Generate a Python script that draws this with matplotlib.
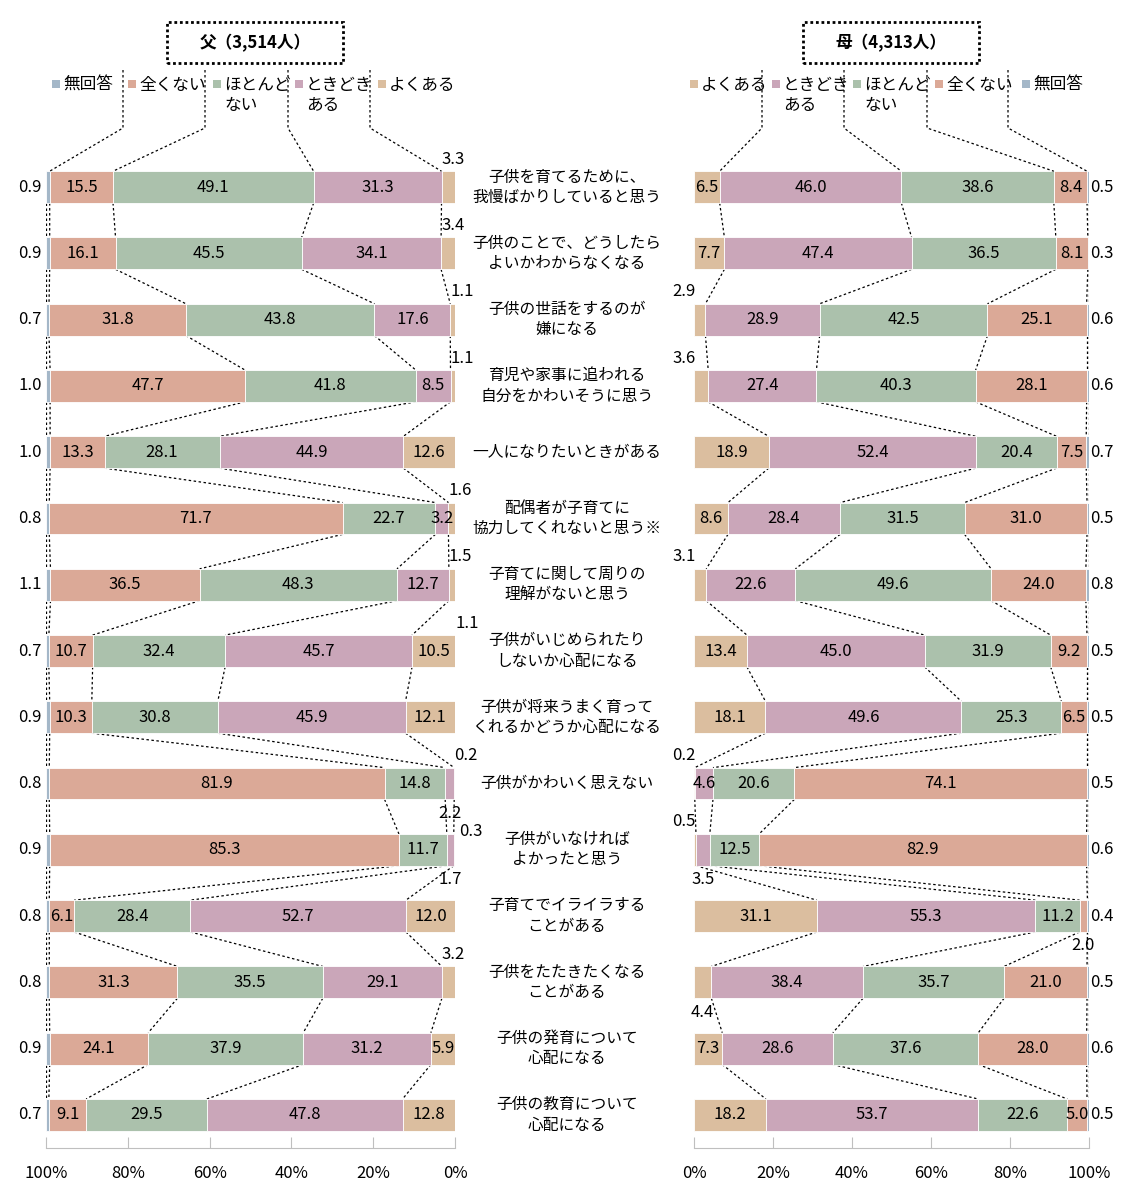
import numpy as np
import matplotlib.pyplot as plt
from matplotlib.patches import Rectangle
from matplotlib.lines import Line2D
from matplotlib.transforms import blended_transform_factory

plt.rcParams['font.family'] = ['Noto Sans CJK JP', 'DejaVu Sans']

# --- data -------------------------------------------------------------
categories = [
    "子供を育てるために、\n我慢ばかりしていると思う",
    "子供のことで、どうしたら\nよいかわからなくなる",
    "子供の世話をするのが\n嫌になる",
    "育児や家事に追われる\n自分をかわいそうに思う",
    "一人になりたいときがある",
    "配偶者が子育てに\n協力してくれないと思う※",
    "子育てに関して周りの\n理解がないと思う",
    "子供がいじめられたり\nしないか心配になる",
    "子供が将来うまく育って\nくれるかどうか心配になる",
    "子供がかわいく思えない",
    "子供がいなければ\nよかったと思う",
    "子育てでイライラする\nことがある",
    "子供をたたきたくなる\nことがある",
    "子供の発育について\n心配になる",
    "子供の教育について\n心配になる",
]

series_names = ["よくある", "ときどき\nある", "ほとんど\nない", "全くない", "無回答"]

# father (3,514)
father_often     = [3.3, 3.4, 1.1, 1.1, 12.6, 1.6, 1.5, 10.5, 12.1, 0.2, 0.3, 12.0, 3.2, 5.9, 12.8]
father_sometimes = [31.3, 34.1, 17.6, 8.5, 44.9, 3.2, 12.7, 45.7, 45.9, 2.2, 1.7, 52.7, 29.1, 31.2, 47.8]
father_rarely    = [49.1, 45.5, 43.8, 41.8, 28.1, 22.7, 48.3, 32.4, 30.8, 14.8, 11.7, 28.4, 35.5, 37.9, 29.5]
father_never     = [15.5, 16.1, 31.8, 47.7, 13.3, 71.7, 36.5, 10.7, 10.3, 81.9, 85.3, 6.1, 31.3, 24.1, 9.1]
father_none      = [0.9, 0.9, 0.7, 1.0, 1.0, 0.8, 1.1, 0.7, 0.9, 0.8, 0.9, 0.8, 0.8, 0.9, 0.7]

# mother (4,313)
mother_often     = [6.5, 7.7, 2.9, 3.6, 18.9, 8.6, 3.1, 13.4, 18.1, 0.2, 0.5, 31.1, 4.4, 7.3, 18.2]
mother_sometimes = [46.0, 47.4, 28.9, 27.4, 52.4, 28.4, 22.6, 45.0, 49.6, 4.6, 3.5, 55.3, 38.4, 28.6, 53.7]
mother_rarely    = [38.6, 36.5, 42.5, 40.3, 20.4, 31.5, 49.6, 31.9, 25.3, 20.6, 12.5, 11.2, 35.7, 37.6, 22.6]
mother_never     = [8.4, 8.1, 25.1, 28.1, 7.5, 31.0, 24.0, 9.2, 6.5, 74.1, 82.9, 2.0, 21.0, 28.0, 5.0]
mother_none      = [0.5, 0.3, 0.6, 0.6, 0.7, 0.5, 0.8, 0.5, 0.5, 0.5, 0.6, 0.4, 0.5, 0.6, 0.5]

ticks = [0, 20, 40, 60, 80, 100]

# --- style ------------------------------------------------------------
colors = ['#DBBE9F', '#CAA6B9', '#ABC1AC', '#DBA997', '#A4B7C8']
BAR_H = 0.48
FS = 12

# labels that sit outside their segment: (row, series) -> placement
father_out = {(0, 0): 'above', (1, 0): 'above', (2, 0): 'above', (3, 0): 'above',
              (5, 0): 'above', (6, 0): 'above', (9, 0): 'above', (10, 0): 'side',
              (12, 0): 'above', (9, 1): 'below', (10, 1): 'below'}
mother_out = {(2, 0): 'above', (3, 0): 'above', (6, 0): 'above', (9, 0): 'above',
              (10, 0): 'above', (10, 1): 'below', (11, 3): 'below', (12, 0): 'below'}

W, H = 1121, 1191
fig = plt.figure(figsize=(W / 100, H / 100), dpi=100)


def fx(px):
    return px / W


def fy(py):
    return 1 - py / H


ax_f = fig.add_axes([fx(46), fy(1148), fx(455) - fx(46), fy(154) - fy(1148)])
ax_m = fig.add_axes([fx(694), fy(1148), fx(1089) - fx(694), fy(154) - fy(1148)])

dotted = dict(color='black', lw=0.9, ls=(0, (2, 2)))


def draw_side(ax, raw, father):
    pct = raw / raw.sum(axis=1, keepdims=True) * 100
    cum = np.cumsum(pct, axis=1)
    start = cum - pct
    n = raw.shape[0]
    y = np.arange(n)
    for k in range(raw.shape[1]):
        ax.barh(y, pct[:, k], left=start[:, k], height=BAR_H,
                color=colors[k], edgecolor='white', linewidth=0.6, zorder=2)

    # series lines between bars
    for i in range(n - 1):
        for k in range(raw.shape[1]):
            ax.plot([cum[i, k], cum[i + 1, k]], [i + BAR_H / 2, i + 1 - BAR_H / 2],
                    zorder=1, **dotted)

    out = father_out if father else mother_out
    for i in range(n):
        for k in range(raw.shape[1]):
            txt = f"{raw[i, k]:.1f}"
            mid = start[i, k] + pct[i, k] / 2
            if k == 4:
                if father:
                    ax.text(101, i, txt, ha='right', va='center', fontsize=FS, clip_on=False)
                else:
                    ax.text(100.4, i, txt, ha='left', va='center', fontsize=FS, clip_on=False)
                continue
            place = out.get((i, k))
            if place is None:
                ax.text(mid, i, txt, ha='center', va='center', fontsize=FS, zorder=3)
            elif place == 'above':
                if father:
                    ax.text(cum[i, k], i - 0.42, txt, ha='left', va='center', fontsize=FS, clip_on=False)
                else:
                    ax.text(start[i, k] + 0.4, i - 0.42, txt, ha='right', va='center', fontsize=FS, clip_on=False)
            elif place == 'side':
                ax.text(-1, i - 0.28, txt, ha='left', va='center', fontsize=FS, clip_on=False)
            elif place == 'below':
                ax.text(mid, i + 0.45, txt, ha='center', va='center', fontsize=FS, clip_on=False)

    ax.set_ylim(n - 0.5, -0.5)
    if father:
        ax.set_xlim(100, 0)
    else:
        ax.set_xlim(0, 100)
    ax.set_xticks(ticks)
    ax.set_xticklabels([f"{t}%" for t in ticks])
    ax.set_yticks([])
    for s in ['top', 'left', 'right']:
        ax.spines[s].set_visible(False)
    ax.spines['bottom'].set_color('#BFBFBF')
    ax.tick_params(axis='x', direction='in', length=8, color='#BFBFBF',
                   labelsize=FS, pad=12)
    ax.patch.set_visible(False)
    return cum


father_raw = np.array([father_often, father_sometimes, father_rarely, father_never, father_none]).T
mother_raw = np.array([mother_often, mother_sometimes, mother_rarely, mother_never, mother_none]).T

cum_f = draw_side(ax_f, father_raw, True)
cum_m = draw_side(ax_m, mother_raw, False)

# odd extra label in the father chart
ax_f.text(-0.2, 7 - 0.42, "1.1", ha='left', va='center', fontsize=FS, clip_on=False)

# category labels in the middle
tr = blended_transform_factory(fig.transFigure, ax_f.transData)
for i, c in enumerate(categories):
    fig.text(fx(567), i, c, transform=tr, ha='center', va='center',
             fontsize=11.3, linespacing=1.25)

# titles in dotted boxes
for x0, x1, title in [(167, 343, "父（3,514人）"), (803, 979, "母（4,313人）")]:
    fig.add_artist(Rectangle((fx(x0), fy(63)), fx(x1) - fx(x0), fy(22) - fy(63),
                             transform=fig.transFigure, fill=False, ec='black',
                             lw=2, ls=(0, (1, 1))))
    fig.text(fx((x0 + x1) / 2), fy(43), title, ha='center', va='center',
             fontsize=12, fontweight='bold')

# legends
father_leg = [(52, 4), (128, 3), (213, 2), (295, 1), (378, 0)]
mother_leg = [(690, 0), (772, 1), (853, 2), (935, 3), (1022, 4)]
for items in (father_leg, mother_leg):
    for px, k in items:
        fig.add_artist(Rectangle((fx(px), fy(88)), fx(8), 8 / H,
                                 transform=fig.transFigure, color=colors[k], lw=0))
        fig.text(fx(px + 11), fy(77), series_names[k], ha='left', va='top',
                 fontsize=12, linespacing=1.2)

# legend separators running down to the first bar
inv = fig.transFigure.inverted()
father_sep = [(123, 3), (205, 2), (288, 1), (370, 0)]
mother_sep = [(762, 0), (844, 1), (927, 2), (1008, 3)]
for ax, seps, cum in [(ax_f, father_sep, cum_f), (ax_m, mother_sep, cum_m)]:
    for px, k in seps:
        bx, by = inv.transform(ax.transData.transform((cum[0, k], -BAR_H / 2)))
        fig.add_artist(Line2D([fx(px), fx(px), bx], [fy(70), fy(128), by],
                              transform=fig.transFigure, **dotted))

fig.savefig("out.png", dpi=100)
